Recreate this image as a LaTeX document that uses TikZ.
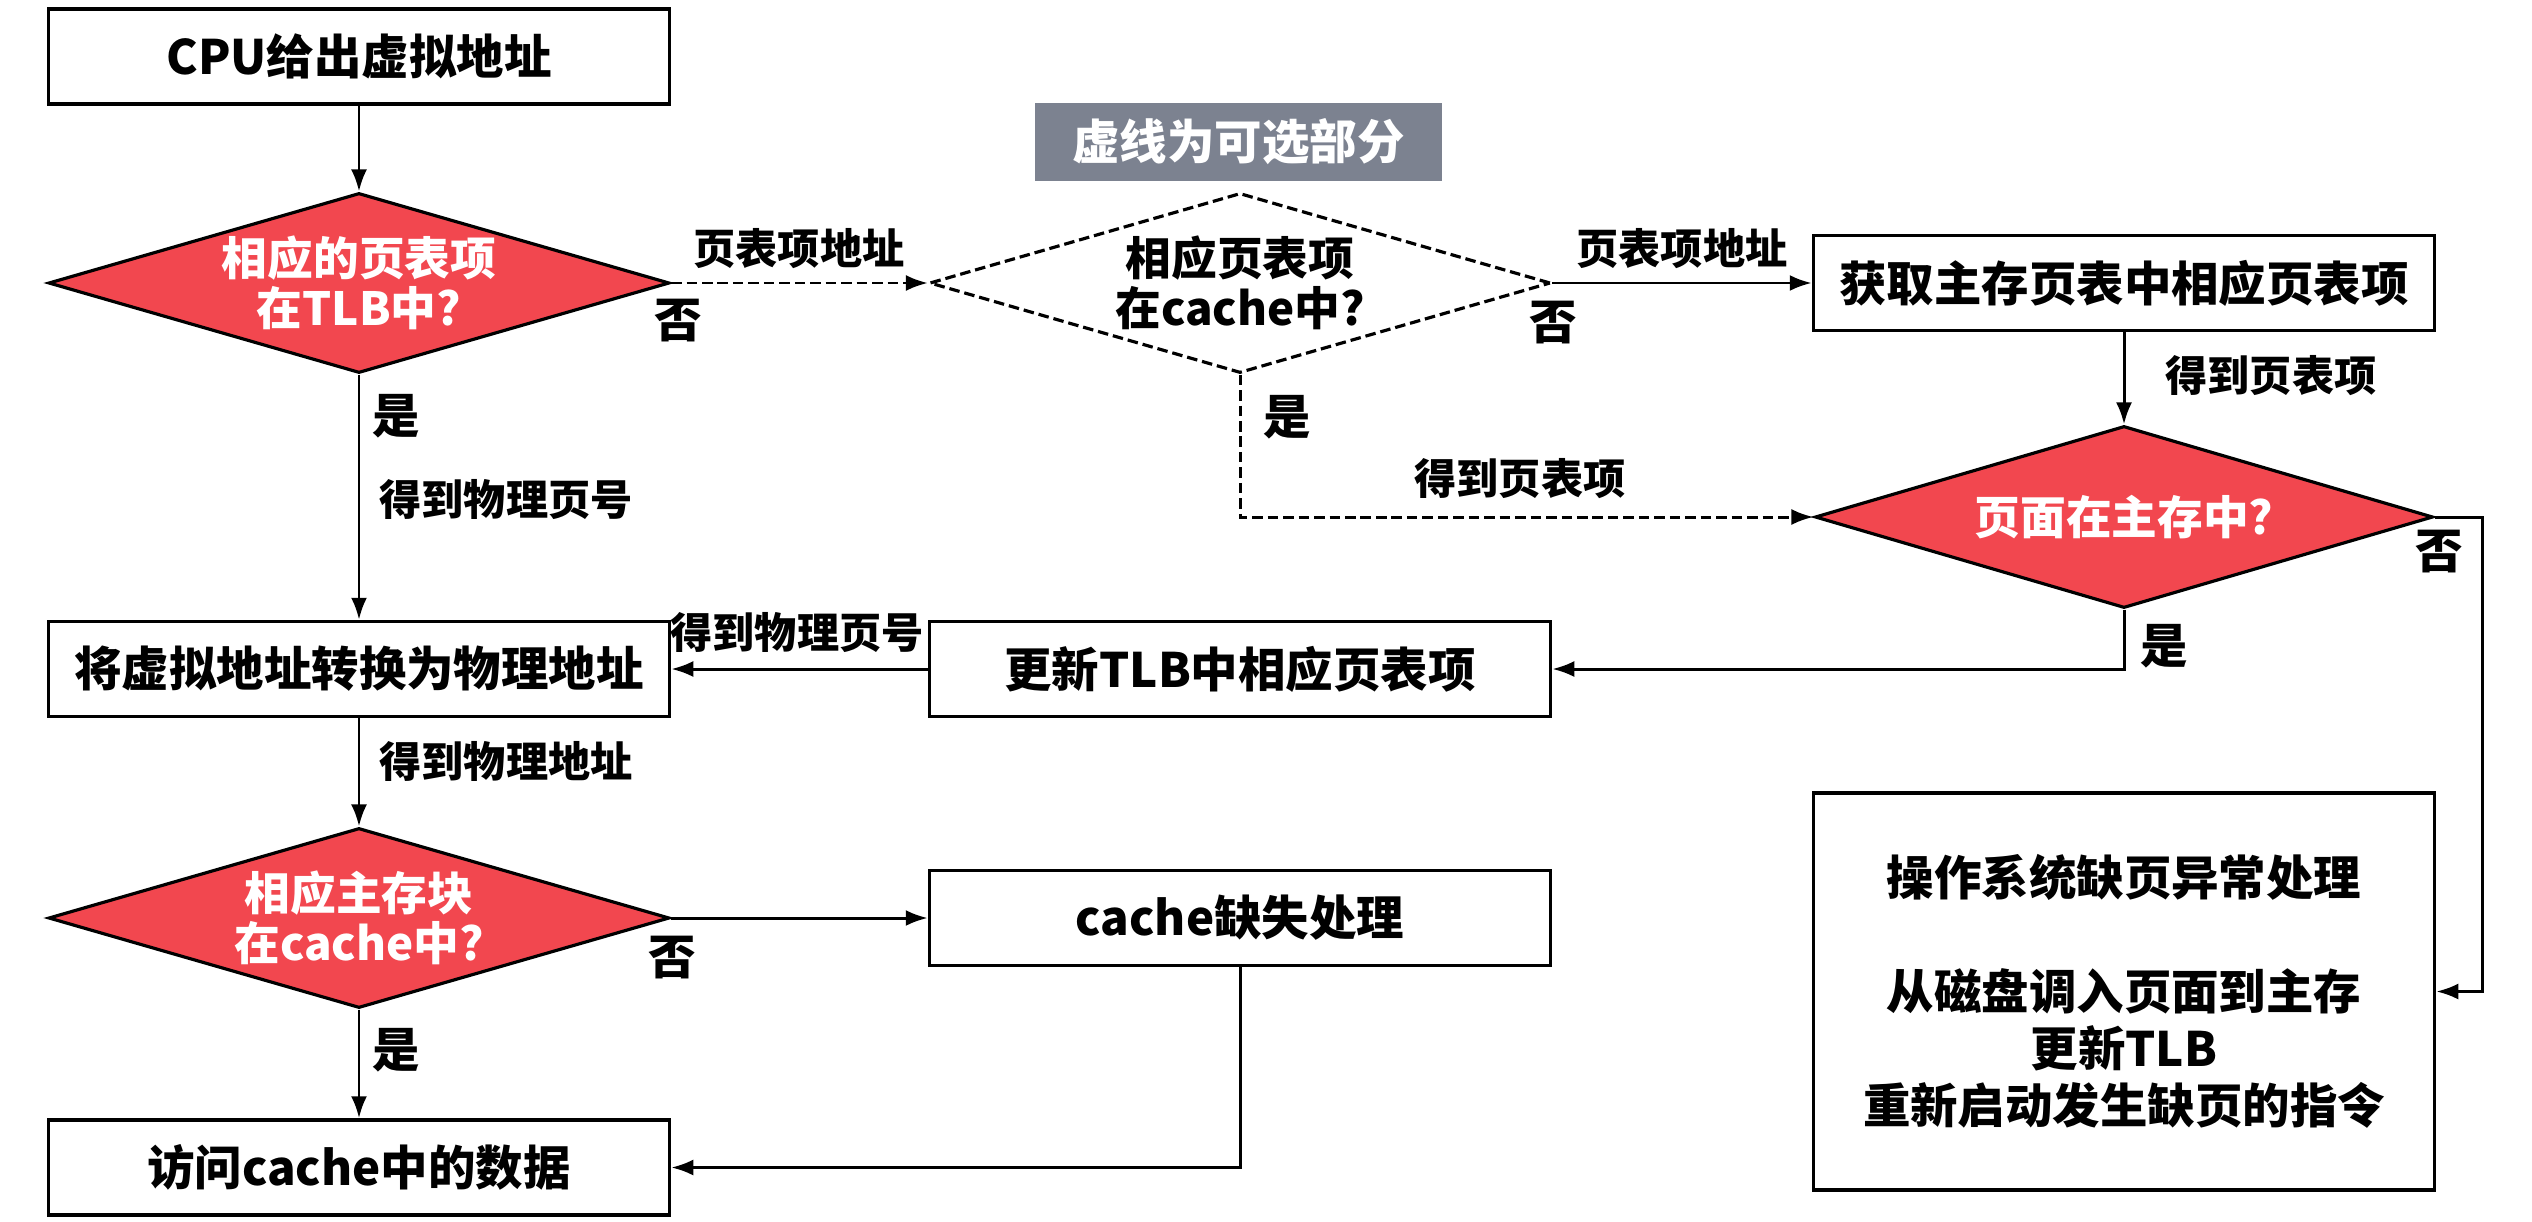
\documentclass[tikz,border=0pt]{standalone}
\usepackage{fontspec}
\setmainfont{Noto Sans CJK SC}
\usetikzlibrary{shapes.geometric,arrows.meta}
\definecolor{decred}{HTML}{F2474F}
\definecolor{notegray}{HTML}{7C8290}
\begin{document}
\begin{tikzpicture}[
    box/.style={draw,line width=1pt,minimum width=6.21cm,minimum height=0.95cm,inner sep=0pt,
      font=\bfseries\fontsize{13.5}{16.2}\selectfont},
    decide/.style={diamond,draw,fill=decred,line width=0.9pt,minimum width=6.21cm,minimum height=1.8cm,inner sep=0pt},
    optdecide/.style={decide,fill=white,dash pattern=on 3pt off 1.4pt},
    dtext/.style={align=center,text=white,font=\bfseries\fontsize{13}{14.3}\selectfont},
    flow/.style={-{Latex[length=0.22cm,width=0.16cm]},line width=0.85pt},
    opt/.style={flow,dash pattern=on 3pt off 1.4pt},
    lbl/.style={font=\bfseries\fontsize{12}{14}\selectfont,inner sep=0pt},
    yn/.style={font=\bfseries\fontsize{13.5}{16}\selectfont,inner sep=0pt}]
  \useasboundingbox (0,0) rectangle (25.32,-12.21);
  \node[box] (cpu) at (3.59,-0.565) {CPU给出虚拟地址};
  \node[decide,label={[dtext]center:{相应的页表项\\在TLB中?}}] (tlb) at (3.59,-2.83) {};
  \node[optdecide,label={[dtext,text=black]center:{相应页表项\\在cache中?}}] (pte) at (12.40,-2.83) {};
  \node[fill=notegray,text=white,minimum width=4.07cm,minimum height=0.78cm,inner sep=0pt,
    font=\bfseries\fontsize{13.5}{16}\selectfont] (note) at (12.385,-1.42) {虚线为可选部分};
  \node[box] (fetch) at (21.24,-2.83) {获取主存页表中相应页表项};
  \node[decide,minimum width=6.18cm,minimum height=1.82cm,label={[dtext]center:页面在主存中?}] (inmem) at (21.24,-5.17) {};
  \node[box] (update) at (12.40,-6.69) {更新TLB中相应页表项};
  \node[box] (xlate) at (3.59,-6.69) {将虚拟地址转换为物理地址};
  \node[decide,label={[dtext]center:{相应主存块\\在cache中?}}] (blk) at (3.59,-9.18) {};
  \node[box] (miss) at (12.40,-9.18) {cache缺失处理};
  \node[box] (read) at (3.59,-11.675) {访问cache中的数据};
  \node[box,minimum height=3.97cm,align=center] (fault) at (21.24,-9.915)
    {操作系统缺页异常处理\\ \\从磁盘调入页面到主存\\更新TLB\\重新启动发生缺页的指令};

  \draw[flow] (cpu) -- (tlb);
  \draw[opt] (tlb.east) -- (pte.west);
  \draw[flow] (pte.east) -- (fetch.west);
  \draw[flow] (fetch) -- (inmem);
  \draw[opt] (pte.south) |- (inmem.west);
  \draw[flow] (inmem.east) -- ++(0.48,0) |- (fault.east);
  \draw[flow] (inmem.south) |- (update.east);
  \draw[flow] (update.west) -- (xlate.east);
  \draw[flow] (tlb.south) -- (xlate.north);
  \draw[flow] (xlate) -- (blk);
  \draw[flow] (blk.east) -- (miss.west);
  \draw[flow] (blk.south) -- (read.north);
  \draw[flow] (miss.south) |- (read.east);

  \node[lbl] (l1) at (7.99,-2.49) {页表项地址};
  \node[lbl] (l2) at (16.82,-2.49) {页表项地址};
  \node[lbl] (l3) at (22.71,-3.76) {得到页表项};
  \node[lbl] (l4) at (15.20,-4.79) {得到页表项};
  \node[lbl] (l5) at (7.97,-6.33) {得到物理页号};
  \node[lbl] (l6) at (5.06,-5.00) {得到物理页号};
  \node[lbl] (l7) at (5.06,-7.61) {得到物理地址};
  \node[yn] (n1) at (6.78,-3.21) {否};
  \node[yn] (n2) at (15.53,-3.23) {否};
  \node[yn] (n3) at (24.39,-5.52) {否};
  \node[yn] (n4) at (6.72,-9.58) {否};
  \node[yn] (y1) at (3.96,-4.16) {是};
  \node[yn] (y2) at (12.87,-4.17) {是};
  \node[yn] (y3) at (21.64,-6.46) {是};
  \node[yn] (y4) at (3.96,-10.50) {是};
\end{tikzpicture}
\end{document}
